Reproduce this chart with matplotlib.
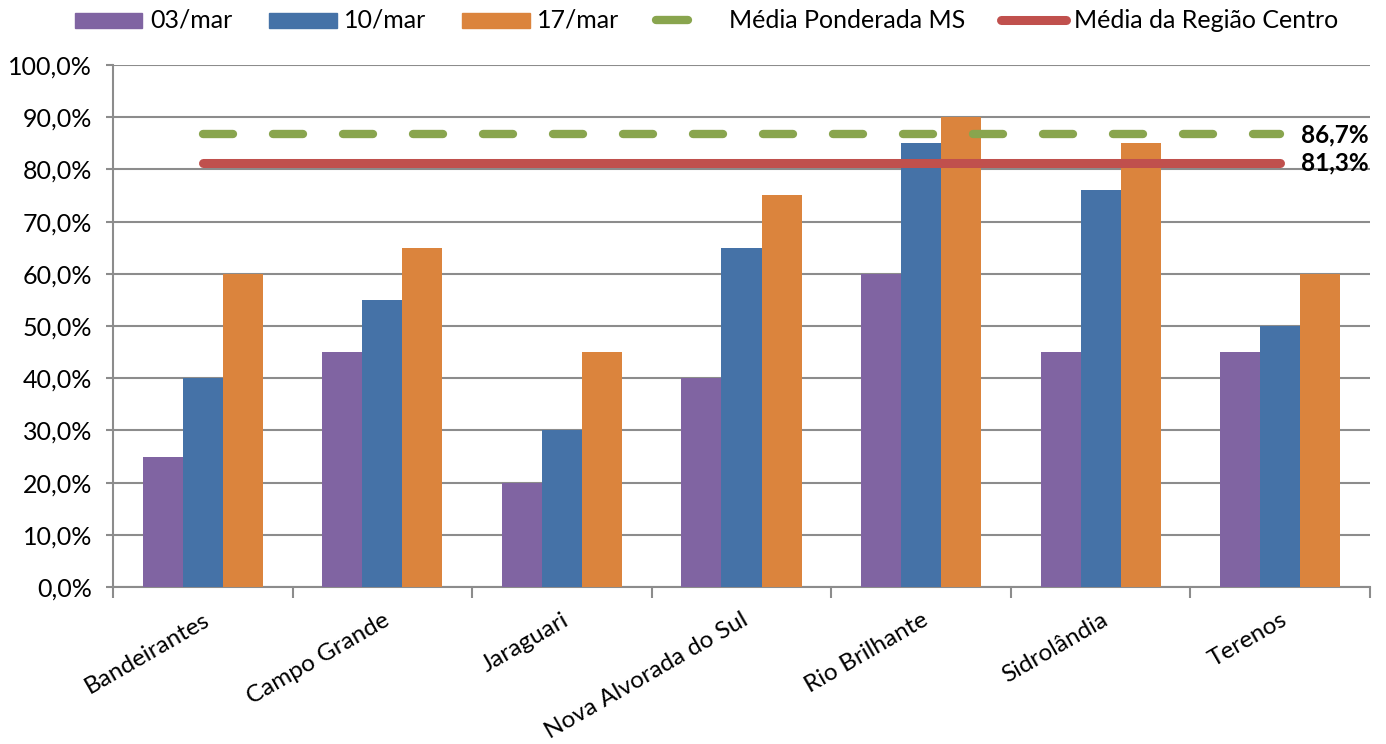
import matplotlib
matplotlib.use("Agg")
import matplotlib.pyplot as plt
import numpy as np
from matplotlib.lines import Line2D
from matplotlib.patches import Rectangle

plt.rcParams['font.family'] = ['Lato', 'DejaVu Sans']

# Data
municipios = ["Bandeirantes", "Campo Grande", "Jaraguari", "Nova Alvorada do Sul",
              "Rio Brilhante", "Sidrolândia", "Terenos"]
serie_labels = ["03/mar", "10/mar", "17/mar"]
v_03mar = [25, 45, 20, 40, 60, 45, 45]
v_10mar = [40, 55, 30, 65, 85, 76, 50]
v_17mar = [60, 65, 45, 75, 90, 85, 60]
media_ms = 86.7
media_centro = 81.3
media_ms_label = "Média Ponderada MS"
media_centro_label = "Média da Região Centro"

cores = ["#8064A2", "#4572A7", "#DB843D"]
cor_ms = "#89A54E"
cor_centro = "#C0504D"
cor_eixo = "#8C8C8C"

W, H = 1386, 744
fig = plt.figure(figsize=(W / 100, H / 100), dpi=100)
ax = fig.add_axes([113 / W, 1 - 587 / H, (1370 - 113) / W, (587 - 65) / H])

x = np.arange(len(municipios))
w = 0.223
for k, vals in enumerate([v_03mar, v_10mar, v_17mar]):
    ax.bar(x + (k - 1) * w, np.array(vals) / 100, width=w, color=cores[k],
           zorder=3, label=serie_labels[k])

# Reference lines spanning the category centres
ax.plot(x, [media_ms / 100] * len(x), color=cor_ms, lw=6,
        dashes=(3.6, 4.8), dash_capstyle='round', zorder=4)
ax.plot(x, [media_centro / 100] * len(x), color=cor_centro, lw=6.5,
        solid_capstyle='round', zorder=4)

for val in (media_ms, media_centro):
    ax.annotate(f"{val:.1f}%".replace('.', ','), xy=(x[-1], val / 100),
                xytext=(15, 0), textcoords='offset points', va='center', ha='left',
                fontsize=17.5, fontweight='bold', color='black')

# Axes styling
ax.set_xlim(-0.5, len(x) - 0.5)
ax.set_ylim(0, 1.0)
yt = np.arange(0, 1.01, 0.1)
ax.set_yticks(yt)
ax.set_yticklabels([f"{v * 100:.1f}%".replace('.', ',') for v in yt], fontsize=18)
ax.yaxis.grid(True, color=cor_eixo, lw=1.5, zorder=0)
ax.set_axisbelow(True)
for s in ['top', 'right']:
    ax.spines[s].set_visible(False)
for s in ['left', 'bottom']:
    ax.spines[s].set_color(cor_eixo)
    ax.spines[s].set_linewidth(1.5)
ax.tick_params(axis='y', length=5, width=1.5, color=cor_eixo, pad=10)

ax.set_xticks(x)
ax.set_xticklabels(municipios, rotation=30, ha='right', rotation_mode='anchor', fontsize=17.5)
ax.tick_params(axis='x', which='major', length=0, pad=16)
ax.set_xticks(np.arange(-0.5, len(x), 1), minor=True)
ax.tick_params(axis='x', which='minor', length=8, width=1.5, color=cor_eixo)

# Legend row along the top, laid out in pixel positions
def fx(px):
    return px / W

def fy(py):
    return 1 - py / H

ly = 20
for c, lab, x0, x1, tx in zip(cores, serie_labels, [75, 269, 462], [142, 337, 530], [150, 344, 537]):
    fig.patches.append(Rectangle((fx(x0), fy(28)), fx(x1) - fx(x0), fy(13) - fy(28),
                                 transform=fig.transFigure, color=c, figure=fig))
    fig.text(fx(tx), fy(ly), lab, fontsize=18, va='center', ha='left')
fig.lines.append(Line2D([fx(656), fx(688)], [fy(ly), fy(ly)], transform=fig.transFigure,
                        color=cor_ms, lw=6, solid_capstyle='round', figure=fig))
fig.text(fx(729), fy(ly), media_ms_label, fontsize=18, va='center', ha='left')
fig.lines.append(Line2D([fx(1001), fx(1066)], [fy(ly), fy(ly)], transform=fig.transFigure,
                        color=cor_centro, lw=6.5, solid_capstyle='round', figure=fig))
fig.text(fx(1074), fy(ly), media_centro_label, fontsize=18, va='center', ha='left')

fig.savefig("out.png", dpi=100)
